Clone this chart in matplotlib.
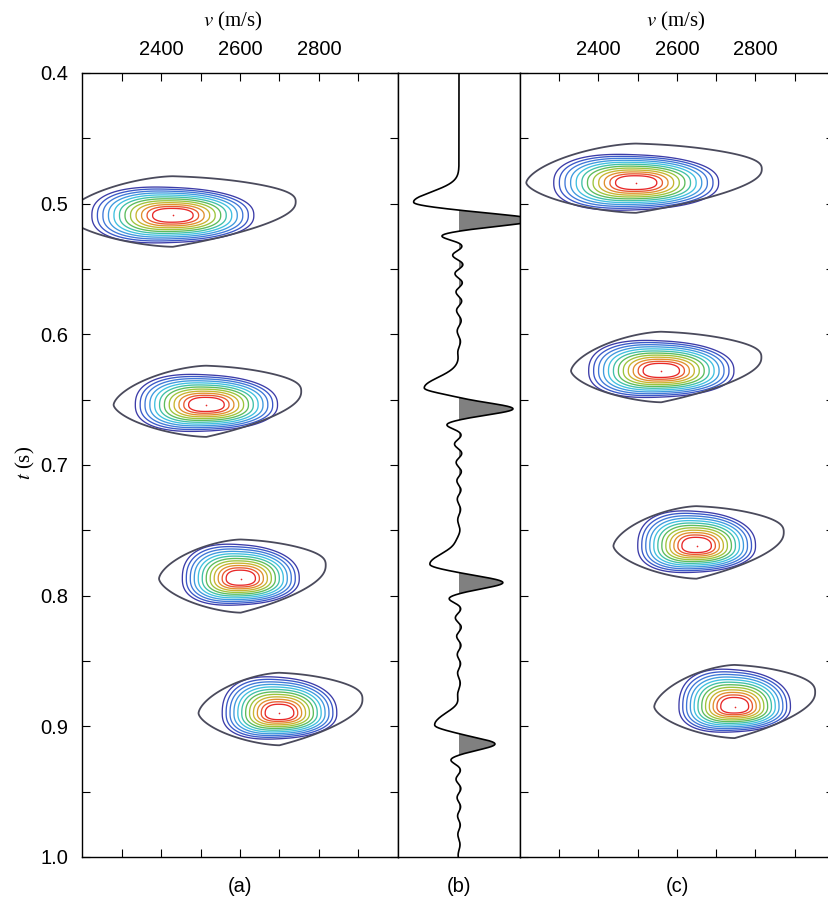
import numpy as np
import matplotlib
matplotlib.use("Agg")
import matplotlib.pyplot as plt

plt.rcParams['font.family'] = ['Liberation Sans', 'DejaVu Sans']
plt.rcParams['mathtext.fontset'] = 'stix'

# panel (a): velocity spectrum peaks
a_v = [2430, 2515, 2602, 2700]          # peak velocity (m/s)
a_t = [0.509, 0.654, 0.787, 0.890]      # peak time (s)
a_w = [205, 180, 148, 145]              # half width of outermost coloured ring (m/s)
a_up = [0.0214, 0.0230, 0.0260, 0.0275] # ring extent above peak (s)
a_dn = [0.0207, 0.0200, 0.0200, 0.0195] # ring extent below peak (s)
a_out_l = [270, 235, 207, 205]          # outer contour reach to the left (m/s)
a_out_r = [311, 240, 215, 210]          # outer contour reach to the right (m/s)
a_out_up = [0.0300, 0.0300, 0.0300, 0.0310]
a_out_dn = [0.0240, 0.0245, 0.0260, 0.0245]

# panel (c): velocity spectrum peaks
c_v = [2496, 2560, 2650, 2747]
c_t = [0.484, 0.628, 0.762, 0.885]
c_w = [210, 185, 150, 142]
c_up = [0.0214, 0.0230, 0.0265, 0.0283]
c_dn = [0.0207, 0.0200, 0.0200, 0.0192]
c_out_l = [280, 230, 212, 205]
c_out_r = [320, 255, 222, 205]
c_out_up = [0.0300, 0.0300, 0.0305, 0.0320]
c_out_dn = [0.0230, 0.0240, 0.0250, 0.0240]

# panel (b): trace events
trough_t = [0.499, 0.641, 0.776, 0.899]
trough_a = [-0.75, -0.57, -0.48, -0.40]
peak_t = [0.5125, 0.657, 0.790, 0.9135]
peak_a = [1.25, 0.885, 0.72, 0.59]
coda_dt = [0.012, 0.020, 0.027, 0.034, 0.041, 0.048, 0.055, 0.062, 0.069, 0.077, 0.085, 0.093, 0.101]
coda_a = [-0.24, 0.05, -0.09, 0.06, -0.06, 0.05, -0.045, 0.04, -0.035, 0.03, -0.025, 0.02, -0.015]

ring_levels = np.linspace(0.25, 1.0, 12)
ring_colors = ['#e82828', '#e85a30', '#e0902e', '#c8b430', '#9cc43c', '#5cbc5c',
               '#40c0a8', '#40c0e0', '#3f9ade', '#3f78d8', '#3a58c8', '#3c3ca8']
outer_color = '#4a4a5c'

fig = plt.figure(figsize=(8.29, 9.0), dpi=100)
W, H = 829, 900
def rect(x0, x1, y0=73, y1=857):
    return [x0 / W, 1 - y1 / H, (x1 - x0) / W, (y1 - y0) / H]

ax_a = fig.add_axes(rect(82, 398))
ax_b = fig.add_axes(rect(398, 520))
ax_c = fig.add_axes(rect(520, 834))

V, T = np.meshgrid(np.linspace(2100, 3100, 800), np.linspace(0.38, 1.02, 1500))


def draw_spectrum(ax, vs, ts, ws, ups, dns, ols, ors, oups, odns):
    for v0, t0, w, up, dn, ol, orr, oup, odn in zip(vs, ts, ws, ups, dns, ols, ors, oups, odns):
        dv = V - v0
        dt = T - t0
        taper = 1 - 0.12 * np.clip(dv / w, -1.5, 1.5)
        y = np.where(dt < 0, dt / up, dt / dn) / taper
        r = (np.abs(dv / w) ** 2.4 + np.abs(y) ** 2.4) ** (1 / 2.4)
        ax.contour(V, T, r, levels=ring_levels, colors=ring_colors, linewidths=0.95)

        fr = np.clip(dv / orr, 0, 1.2)
        ds = dt + 0.35 * oup * fr
        x = np.where(dv < 0, dv / ol, dv / orr)
        oup_e = oup * (1 - 0.45 * fr)
        odn_e = odn * (1 - 0.25 * fr)
        yy = np.where(ds < 0, ds / oup_e, ds / odn_e)
        p = np.where(dv < 0, 1.6, 2.4)
        g = (np.abs(x) ** p + np.abs(yy) ** p) ** (1 / p)
        ax.contour(V, T, g, levels=[1.0], colors=outer_color, linewidths=1.3)
    ax.plot(vs, ts, 'o', color='#e82828', ms=1.2, mew=0)


draw_spectrum(ax_a, a_v, a_t, a_w, a_up, a_dn, a_out_l, a_out_r, a_out_up, a_out_dn)
draw_spectrum(ax_c, c_v, c_t, c_w, c_up, c_dn, c_out_l, c_out_r, c_out_up, c_out_dn)

for ax in (ax_a, ax_c):
    ax.set_xlim(2200, 3000)
    ax.set_ylim(1.0, 0.4)
    ax.set_xticks(np.arange(2300, 3000, 100))
    ax.set_xticklabels(['', '2400', '', '2600', '', '2800', ''])
    ax.set_yticks(np.arange(0.4, 1.0001, 0.05))
    ax.tick_params(direction='in', length=5.8, width=0.8, top=True, bottom=True,
                   left=True, right=True, labeltop=True, labelbottom=False,
                   pad=10, labelsize=14.5)
ax_a.set_yticklabels(['0.4', '', '0.5', '', '0.6', '', '0.7', '', '0.8', '', '0.9', '', '1.0'])
ax_c.tick_params(labelleft=False)

# synthetic trace
t = np.linspace(0.4, 1.0, 4001)
trace = np.zeros_like(t)
for tt, ta, pt, pa in zip(trough_t, trough_a, peak_t, peak_a):
    sig = np.where(t < tt, 0.0080, 0.0040)
    trace += ta * np.exp(-0.5 * ((t - tt) / sig) ** 2)
    trace += pa * np.exp(-0.5 * ((t - pt) / 0.0042) ** 2)
    for cd, ca in zip(coda_dt, coda_a):
        trace += ca * pa * np.exp(-0.5 * ((t - pt - cd) / 0.0030) ** 2)

ax_b.fill_betweenx(t, 0, trace, where=trace > 0, interpolate=True, color='#808080', lw=0)
ax_b.plot(trace, t, color='black', lw=1.2)
ax_b.set_xlim(-1, 1)
ax_b.set_ylim(1.0, 0.4)
ax_b.set_xticks([])
ax_b.set_yticks([])

for ax in (ax_a, ax_b, ax_c):
    for s in ax.spines.values():
        s.set_linewidth(1.0)

fig.text(233 / W, 1 - 21 / H, r'$\it{v}$ (m/s)', ha='center', va='center',
         family='Liberation Serif', fontsize=15)
fig.text(676 / W, 1 - 21 / H, r'$\it{v}$ (m/s)', ha='center', va='center',
         family='Liberation Serif', fontsize=15)
fig.text(25 / W, 1 - 463 / H, r'$\it{t}$ (s)', ha='center', va='center', rotation=90,
         family='Liberation Serif', fontsize=15)
for lab, xc in zip(['(a)', '(b)', '(c)'], [240, 459, 677]):
    fig.text(xc / W, 1 - 887 / H, lab, ha='center', va='center', fontsize=14.5)

fig.savefig('out.png', dpi=100)
